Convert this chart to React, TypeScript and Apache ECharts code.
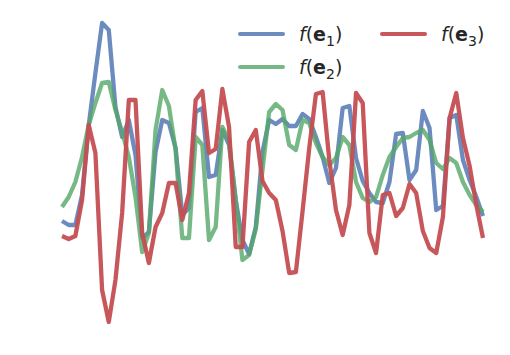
import React, { useEffect, useRef } from "react";
import * as echarts from "echarts";

// sample index along the x direction (64 samples)
const steps: number[] = Array.from({ length: 64 }, (_, i) => i);

const seriesNames = ["f(e1)", "f(e2)", "f(e3)"];

const e1Values = [
  0.9, 0.5, 0.5, 3.5, 10.5, 15.7, 20.7, 20.0, 12.3, 9.3,
  11.0, 7.5, -0.8, -0.2, 7.8, 11.0, 10.7, 8.2, 1.5, 2.2,
  11.8, 12.2, 5.3, 5.5, 10.0, 8.5, 3.0, -1.0, -2.4, 0.3,
  7.8, 11.0, 10.6, 11.1, 10.4, 10.4, 11.6, 11.1, 9.3, 7.3,
  4.7, 6.2, 12.2, 12.4, 7.2, 4.9, 3.7, 2.8, 2.7, 4.8,
  9.6, 9.7, 5.0, 6.0, 11.9, 10.2, 2.0, 2.4, 11.2, 11.5,
  7.0, 5.0, 3.3, 1.4,
];

const e2Values = [
  2.3, 3.3, 4.8, 7.3, 10.5, 12.7, 14.7, 14.8, 12.0, 9.8,
  7.3, 3.3, -2.2, -0.3, 10.0, 14.0, 12.4, 8.0, -0.8, -0.8,
  9.3, 8.5, -1.0, 0.3, 10.3, 9.0, 3.0, -3.0, -2.5, 0.1,
  6.0, 11.8, 12.6, 12.0, 8.5, 8.0, 11.0, 10.7, 8.7, 7.3,
  6.5, 7.2, 9.3, 8.5, 4.8, 3.2, 2.8, 3.3, 5.5, 7.3,
  8.3, 9.2, 9.3, 9.7, 10.0, 9.0, 6.7, 6.1, 7.2, 6.7,
  4.8, 3.5, 2.5, 1.8,
];

const e3Values = [
  -0.6, -0.9, -0.6, 3.0, 10.5, 7.7, -6.0, -9.2, -5.0, 1.7,
  13.0, 13.0, -0.3, -3.3, 0.3, 1.7, 4.7, 4.7, 1.0, 3.7,
  13.0, 13.9, 7.7, 8.1, 14.1, 10.3, -1.7, -1.7, 8.8, 10.0,
  4.9, 3.7, 3.0, -0.1, -4.3, -4.2, 1.9, 8.2, 13.6, 13.8,
  7.0, 2.0, -0.5, 2.5, 13.7, 12.7, -0.3, -2.3, 3.5, 3.7,
  1.4, 2.2, 4.6, 3.7, -0.1, -1.8, -2.3, 1.3, 11.2, 13.7,
  9.2, 6.4, 2.5, -0.8,
];

const colors = ["#4C72B0", "#55A868", "#C44E52"];
const opacities = [0.82, 0.8, 0.95];
const subscripts = ["1", "2", "3"];

const FONT = "DejaVu Sans";

function legendItem(idx: number, lx: number, ly: number) {
  return [
    {
      type: "line",
      shape: { x1: lx, y1: ly, x2: lx + 43, y2: ly },
      style: { stroke: colors[idx], lineWidth: 4, opacity: opacities[idx], lineCap: "round" },
    },
    {
      type: "text",
      x: lx + 59,
      y: ly,
      style: {
        text: `{f|f}{n|(}{b|e}{s|${subscripts[idx]}}{n|)}`,
        verticalAlign: "middle",
        fill: "#262626",
        fontFamily: FONT,
        fontSize: 19,
        rich: {
          f: { fontStyle: "italic", fontSize: 19, fontFamily: FONT, fill: "#262626" },
          n: { fontSize: 19, fontFamily: FONT, fill: "#262626" },
          b: { fontWeight: "bold", fontSize: 19, fontFamily: FONT, fill: "#262626" },
          s: { fontSize: 14, fontFamily: FONT, fill: "#262626", padding: [13, 0, 0, 0] },
        },
      },
    },
  ];
}

export default function App() {
  const ref = useRef<HTMLDivElement>(null);
  useEffect(() => {
    if (!ref.current) return;
    const chart = echarts.init(ref.current, undefined, { renderer: "svg" });
    const data = [e1Values, e2Values, e3Values];
    chart.setOption({
      animation: false,
      backgroundColor: "#ffffff",
      grid: { left: 62, right: 27, top: 0, bottom: 0 },
      xAxis: {
        type: "category",
        data: steps,
        boundaryGap: false,
        show: false,
      },
      yAxis: {
        type: "value",
        min: -12.5,
        max: 23,
        show: false,
        splitLine: { show: false },
      },
      series: data.map((d, i) => ({
        name: seriesNames[i],
        type: "line",
        data: d,
        showSymbol: false,
        symbol: "none",
        lineStyle: { color: colors[i], width: 4.3, opacity: opacities[i], join: "round" },
        z: 2 + i,
      })),
      graphic: [
        ...legendItem(0, 240, 34),
        ...legendItem(1, 240, 67),
        ...legendItem(2, 382, 34),
      ],
    });
    return () => chart.dispose();
  }, []);
  return (
    <div
      ref={ref}
      style={{ position: "fixed", left: 0, top: 0, width: 510, height: 355 }}
    />
  );
}
